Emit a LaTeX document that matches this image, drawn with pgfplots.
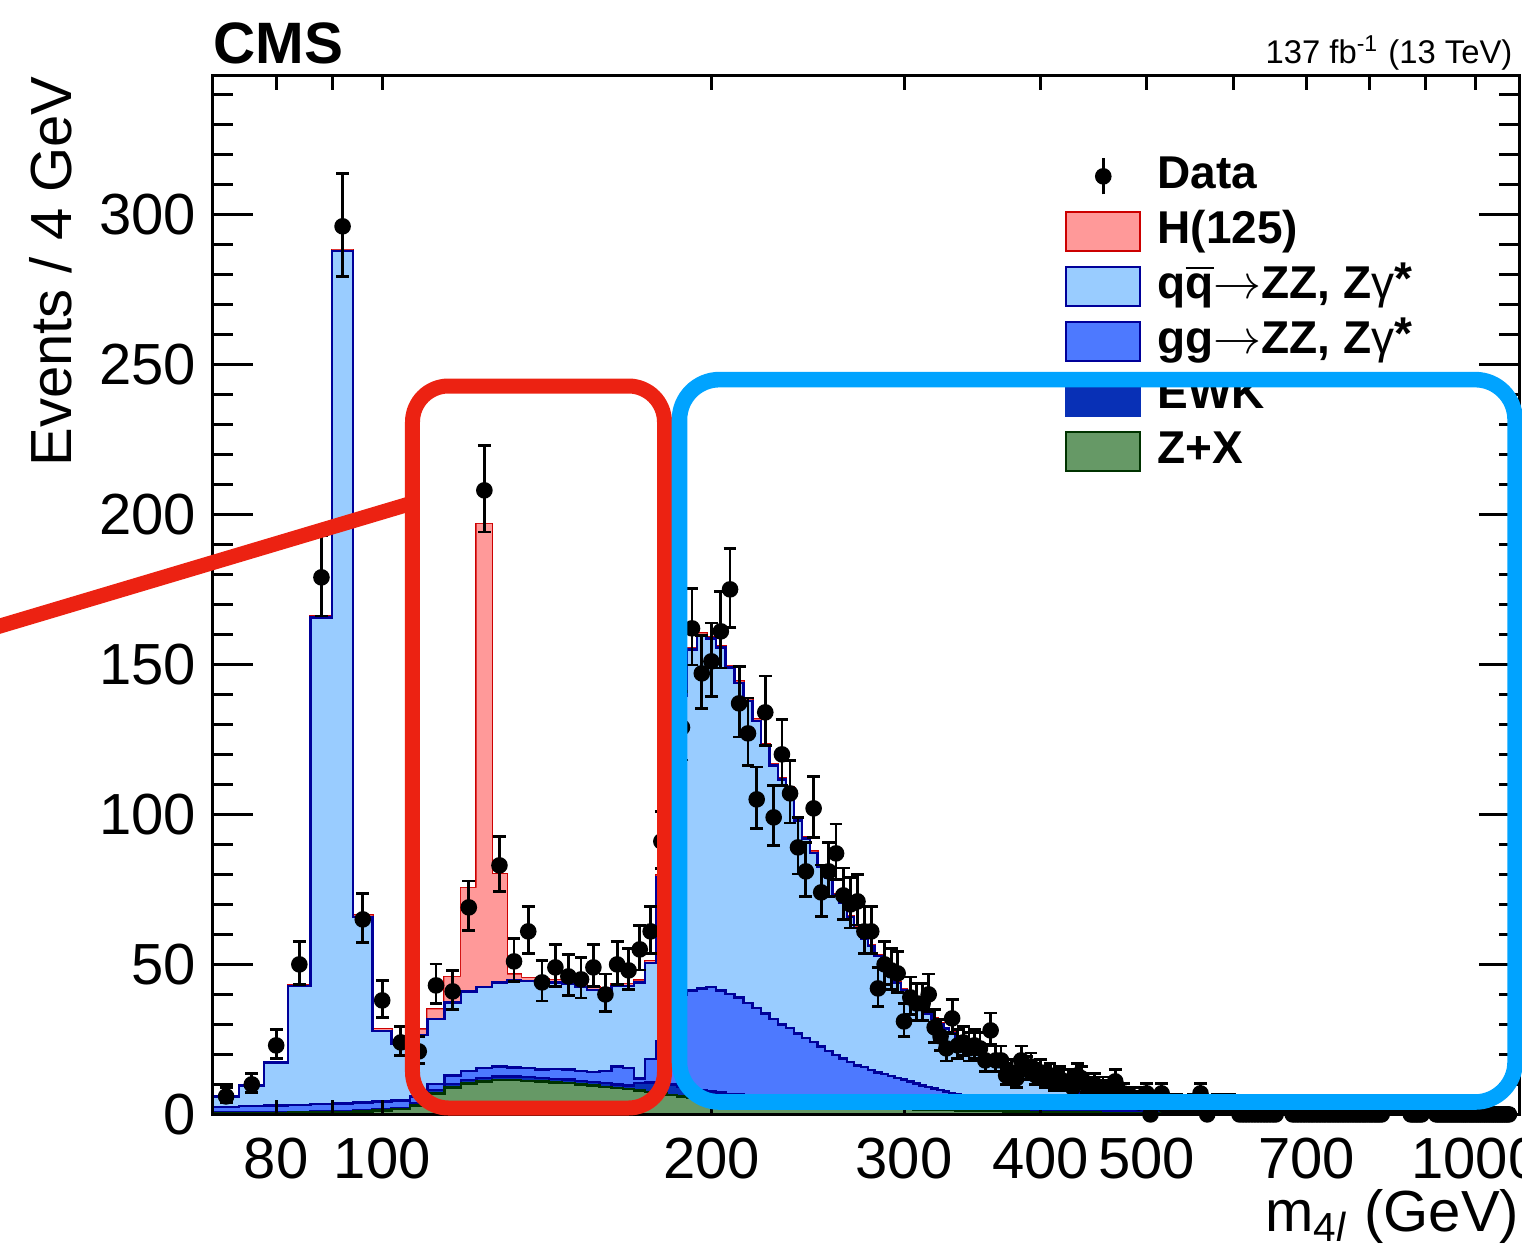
\documentclass[border=0pt]{standalone}
\usepackage{fontspec}
\setmainfont{Liberation Sans}
\usepackage{pgfplots}
\pgfplotsset{compat=1.18}
\usepackage{pgfplotstable}

\definecolor{hfill}{RGB}{255,153,153}
\definecolor{hline}{RGB}{204,0,0}
\definecolor{qqfill}{RGB}{153,204,255}
\definecolor{ggfill}{RGB}{77,121,255}
\definecolor{ewkfill}{RGB}{8,48,182}
\definecolor{zxfill}{RGB}{102,153,102}
\definecolor{zxline}{RGB}{0,51,0}
\definecolor{navy}{RGB}{0,0,153}
\definecolor{redframe}{RGB}{236,34,18}
\definecolor{blueframe}{RGB}{0,163,255}

% stacked simulation, bins of 4 GeV (left edges)
\pgfplotstableread{
x zx ewk gg qq h z
70 0.3 0.3 1.9 3.5 0.2 0
74 0.4 0.3 2.1 6.8 0.2 0
78 0.5 0.3 2.2 14.3 0.2 0
82 0.6 0.3 2.3 39.6 0.3 0
86 0.7 0.3 2.5 162.1 0.3 0
90 0.8 0.3 2.6 284.1 0.4 0
94 1.0 0.3 2.7 61.8 0.5 0
98 1.3 0.3 2.7 23.5 0.6 0
102 1.8 0.4 2.5 18.8 0.8 0
106 3.0 0.8 2.2 20.5 1.8 0
110 7.0 1.2 2.0 21.6 3.2 0
114 9.0 1.2 2.8 24.3 8.5 0
118 10.3 1.2 3.0 26.5 34.5 0
122 11.0 1.2 3.2 27.1 154.3 0
126 11.5 1.2 3.3 28.0 36.1 0
130 11.5 1.2 3.0 29.1 1.8 0
134 11.2 1.2 3.0 29.1 1.0 0
138 11.0 1.2 2.8 29.0 0.9 0
142 10.7 1.2 3.3 28.8 0.8 0
146 10.4 1.2 3.4 28.5 0.8 0
150 10.0 1.2 3.3 28.0 0.8 0
154 9.6 1.2 3.4 27.3 0.8 0
158 9.2 1.2 4.1 27.0 0.7 0
162 8.8 1.2 6.0 26.8 0.7 0
166 8.4 1.2 5.9 27.3 0.7 0
170 8.0 2.5 1.5 32.0 0.6 0
174 7.5 3.2 7.7 32.1 0.6 0
178 7.0 3.5 13.9 54.7 0.5 0
182 6.5 3.5 23.0 81.6 0.5 0
186 6.0 3.2 30.8 99.6 0.5 0
190 5.6 3.0 32.7 113.7 0.5 0
194 5.3 2.8 33.8 117.9 0.5 0
198 5.0 2.6 34.9 116.1 0.5 0
202 4.8 2.45 34.05 114.3 0.5 0
206 4.6 2.3 33.2 108.9 0.5 0
210 4.4 2.2 32.4 104.8 0.5 0
214 4.2 2.1 30.9 100.6 0.5 0
218 4.0 2.0 29.4 95.8 0.5 0
222 3.8 1.9 27.9 89.3 0.5 0
226 3.6 1.85 26.35 84.5 0.5 0
230 3.5 1.8 24.7 81.6 0.5 0
234 3.3 1.75 23.75 79.8 0.5 0
238 3.2 1.7 22.1 70.9 0.4 0
242 3.0 1.65 20.85 66.4 0.4 0
246 2.9 1.6 19.6 63.1 0.4 0
250 2.8 1.55 18.35 59.8 0.4 0
254 2.7 1.5 16.9 57.7 0.4 0
258 2.6 1.45 15.85 53.0 0.4 0
262 2.5 1.4 14.8 51.8 0.4 0
266 2.4 1.35 13.75 48.3 0.4 0
270 2.3 1.3 12.7 45.9 0.4 0
274 2.2 1.27 12.33 42.8 0.3 0
278 2.1 1.24 11.46 41.4 0.3 0
282 2.0 1.2 10.8 38.7 0.3 0
286 1.95 1.17 10.28 36.9 0.3 0
290 1.9 1.14 9.76 33.9 0.3 0
294 1.85 1.1 9.25 31.5 0.3 0
298 1.8 1.0 8.8 29.9 0.3 0
302 1.75 1.0 8.25 28.3 0.3 0
306 1.7 1.0 7.6 27.0 0.3 0
310 1.65 1.0 7.05 25.7 0.3 0
314 1.6 1.0 6.5 24.4 0.3 0
318 1.55 1.0 6.05 23.2 0.3 0
322 1.5 0.9 5.7 22.0 0.3 0
326 1.45 0.9 5.25 21.0 0.3 0
330 1.4 0.9 4.9 19.9 0.3 0
334 1.36 0.9 4.54 18.9 0.3 0
338 1.32 0.9 4.18 17.9 0.3 0
342 1.28 0.9 3.82 17.1 0.3 0
346 1.24 0.8 3.66 16.2 0.3 0
350 1.2 0.8 3.4 15.3 0.3 0
354 1.16 0.8 3.14 14.6 0.2 0
358 1.12 0.8 2.88 13.8 0.2 0
362 1.09 0.8 2.61 13.2 0.2 0
366 1.06 0.8 2.44 12.4 0.2 0
370 1.03 0.7 2.37 11.8 0.2 0
374 1.0 0.7 2.2 11.1 0.2 0
378 0.97 0.7 2.03 10.6 0.2 0
382 0.94 0.7 1.86 10.0 0.2 0
386 0.91 0.7 1.69 9.5 0.2 0
390 0.88 0.7 1.57 9.05 0.2 0
394 0.86 0.6 1.54 8.5 0.2 0
398 0.84 0.6 1.41 8.05 0.2 0
402 0.82 0.6 1.28 7.7 0.2 0
406 0.8 0.6 1.15 7.25 0.15 0
410 0.78 0.6 1.07 6.85 0.15 0
414 0.76 0.6 0.99 6.45 0.15 0
418 0.74 0.5 1.01 6.15 0.15 0
422 0.72 0.5 0.93 5.75 0.15 0
426 0.7 0.5 0.85 5.45 0.15 0
430 0.68 0.5 0.77 5.15 0.15 0
434 0.66 0.5 0.69 4.95 0.15 0
438 0.64 0.5 0.61 4.65 0.15 0
442 0.62 0.45 0.63 4.4 0.15 0
446 0.6 0.45 0.55 4.2 0.15 0
450 0.58 0.45 0.52 3.95 0.15 0
454 0.56 0.45 0.49 3.7 0.15 0
458 0.54 0.45 0.46 3.45 0.15 0
462 0.5 0.4 0.45 3.25 0.1 0
480 0.45 0.35 0.4 2.6 0.1 0
500 0.4 0.3 0.3 2.0 0.1 0
530 0.33 0.25 0.22 1.4 0.08 0
560 0.27 0.2 0.18 0.95 0.07 0
600 0.2 0.15 0.15 0.6 0.06 0
650 0.15 0.12 0.11 0.37 0.05 0
700 0.1 0.1 0.08 0.22 0.04 0
800 0.06 0.06 0.03 0.1 0.03 0
900 0.03 0.04 0.03 0.03 0.02 0
1000 0.02 0.03 0.02 0.01 0.02 0
1095 0.02 0.03 0.02 0.01 0.02 0
}\mctab

% data: bin centre, events, lower and upper error
\pgfplotstableread[row sep=\\]{
x n ed eu\\
72 6 2.0 3.0\\ 76 10 2.7 3.7\\ 80 23 4.3 5.3\\ 84 50 6.6 7.6\\
88 179 12.9 13.9\\ 92 296 16.7 17.7\\ 96 65 7.6 8.6\\ 100 38 5.7 6.7\\
104 24 4.4 5.4\\ 108 21 4.1 5.1\\ 112 43 6.1 7.1\\ 116 41 5.9 6.9\\
120 69 7.8 8.8\\ 124 208 13.9 14.9\\ 128 83 8.6 9.6\\ 132 51 6.7 7.7\\
136 61 7.3 8.3\\ 140 44 6.2 7.2\\ 144 49 6.5 7.5\\ 148 46 6.3 7.3\\
152 45 6.2 7.2\\ 156 49 6.5 7.5\\ 160 40 5.8 6.8\\ 164 50 6.6 7.6\\
168 48 6.4 7.4\\ 172 55 6.9 7.9\\ 176 61 7.3 8.3\\ 180 91 9.0 10.0\\
184 100 9.5 10.5\\ 188 129 10.9 11.9\\ 192 162 12.2 13.2\\ 196 147 11.6 12.6\\
200 151 11.8 12.8\\ 204 161 12.2 13.2\\ 208 175 12.7 13.7\\ 212 137 11.2 12.2\\
216 127 10.8 11.8\\ 220 105 9.8 10.8\\ 224 134 11.1 12.1\\ 228 99 9.5 10.5\\
232 120 10.5 11.5\\ 236 107 9.9 10.9\\ 240 89 8.9 9.9\\ 244 81 8.5 9.5\\
248 102 9.6 10.6\\ 252 74 8.1 9.1\\ 256 81 8.5 9.5\\ 260 87 8.8 9.8\\
264 73 8.1 9.1\\ 268 70 7.9 8.9\\ 272 71 7.9 8.9\\ 276 61 7.3 8.3\\
280 61 7.3 8.3\\ 284 42 6.0 7.0\\ 288 50 6.6 7.6\\ 292 48 6.4 7.4\\
296 47 6.4 7.4\\ 300 31 5.1 6.1\\ 304 39 5.8 6.8\\ 308 37 5.6 6.6\\
312 37 5.6 6.6\\ 316 40 5.8 6.8\\ 320 29 4.9 5.9\\ 324 26 4.6 5.6\\
328 22 4.2 5.2\\ 332 32 5.2 6.2\\ 336 23 4.3 5.3\\ 340 24 4.4 5.4\\
344 22 4.2 5.2\\ 348 23 4.3 5.3\\ 352 22 4.2 5.2\\ 356 18 3.8 4.8\\
360 28 4.8 5.8\\ 364 18 3.8 4.8\\ 368 18 3.8 4.8\\ 372 13 3.1 4.1\\
376 14 3.3 4.3\\ 380 12 3.0 4.0\\ 384 18 3.8 4.8\\ 388 15 3.4 4.4\\
392 16 3.5 4.5\\ 396 13 3.1 4.1\\ 400 14 3.3 4.3\\ 404 12 3.0 4.0\\
408 13 3.1 4.1\\ 412 11 2.9 3.9\\ 416 12 3.0 4.0\\ 420 11 2.9 3.9\\
424 11 2.9 3.9\\ 428 9 2.5 3.5\\ 432 13 3.1 4.1\\ 436 12 3.0 4.0\\
440 10 2.7 3.7\\ 444 9 2.5 3.5\\ 448 10 2.7 3.7\\ 452 8 2.4 3.4\\
456 9 2.5 3.5\\ 460 7 2.2 3.2\\ 464 8 2.4 3.4\\ 468 11 2.9 3.9\\
472 6 2.0 3.0\\ 476 7 2.2 3.2\\ 480 5 1.8 2.8\\ 484 6 2.0 3.0\\
488 5 1.8 2.8\\ 492 4 1.6 2.6\\ 496 6 2.0 3.0\\ 500 7 2.2 3.2\\
504 0 0 1.8\\ 508 5 1.8 2.8\\ 512 4 1.6 2.6\\ 516 7 2.2 3.2\\
520 3 1.3 2.3\\ 524 4 1.6 2.6\\ 528 3 1.3 2.3\\ 532 4 1.6 2.6\\
536 3 1.3 2.3\\ 540 3 1.3 2.3\\ 544 3 1.3 2.3\\ 548 3 1.3 2.3\\
552 4 1.6 2.6\\ 556 3 1.3 2.3\\ 560 7 2.2 3.2\\ 564 3 1.3 2.3\\
568 0 0 1.8\\ 572 3 1.3 2.3\\ 576 3 1.3 2.3\\ 580 4 1.6 2.6\\
584 3 1.3 2.3\\ 588 3 1.3 2.3\\ 592 3 1.3 2.3\\ 596 4 1.6 2.6\\
600 3 1.3 2.3\\ 604 3 1.3 2.3\\
608 0 0 1.8\\ 612 0 0 1.8\\ 616 0 0 1.8\\ 620 0 0 1.8\\ 624 0 0 1.8\\
628 0 0 1.8\\ 632 0 0 1.8\\ 636 0 0 1.8\\ 640 0 0 1.8\\ 644 0 0 1.8\\
648 0 0 1.8\\ 652 0 0 1.8\\ 656 0 0 1.8\\
660 3 1.3 2.3\\ 664 3 1.3 2.3\\ 668 3 1.3 2.3\\ 672 3 1.3 2.3\\ 676 3 1.3 2.3\\
680 0 0 1.8\\ 684 0 0 1.8\\ 688 0 0 1.8\\ 692 0 0 1.8\\ 696 0 0 1.8\\
700 0 0 1.8\\ 704 0 0 1.8\\ 708 0 0 1.8\\ 712 0 0 1.8\\ 716 0 0 1.8\\
720 0 0 1.8\\ 724 0 0 1.8\\ 728 0 0 1.8\\ 732 0 0 1.8\\ 736 0 0 1.8\\
740 0 0 1.8\\ 744 0 0 1.8\\ 748 0 0 1.8\\ 752 0 0 1.8\\ 756 0 0 1.8\\
760 0 0 1.8\\ 764 0 0 1.8\\ 768 0 0 1.8\\ 772 0 0 1.8\\ 776 0 0 1.8\\
780 0 0 1.8\\ 784 0 0 1.8\\ 788 0 0 1.8\\ 792 0 0 1.8\\ 796 0 0 1.8\\
800 0 0 1.8\\ 804 0 0 1.8\\ 808 0 0 1.8\\ 812 0 0 1.8\\ 816 0 0 1.8\\
820 0 0 1.8\\
824 3 1.3 2.3\\ 828 3 1.3 2.3\\ 832 3 1.3 2.3\\ 836 3 1.3 2.3\\
840 3 1.3 2.3\\ 844 3 1.3 2.3\\ 848 3 1.3 2.3\\ 852 3 1.3 2.3\\
856 3 1.3 2.3\\ 860 3 1.3 2.3\\ 864 3 1.3 2.3\\ 868 3 1.3 2.3\\
872 0 0 1.8\\ 876 0 0 1.8\\ 880 0 0 1.8\\ 884 0 0 1.8\\ 888 0 0 1.8\\ 892 0 0 1.8\\
896 3 1.3 2.3\\ 900 3 1.3 2.3\\ 904 3 1.3 2.3\\ 908 3 1.3 2.3\\ 912 3 1.3 2.3\\ 916 3 1.3 2.3\\
920 0 0 1.8\\ 924 0 0 1.8\\ 928 0 0 1.8\\ 932 0 0 1.8\\ 936 0 0 1.8\\
940 0 0 1.8\\ 944 0 0 1.8\\ 948 0 0 1.8\\ 952 0 0 1.8\\ 956 0 0 1.8\\
960 0 0 1.8\\ 964 0 0 1.8\\ 968 0 0 1.8\\ 972 0 0 1.8\\ 976 0 0 1.8\\
980 0 0 1.8\\ 984 0 0 1.8\\ 988 0 0 1.8\\ 992 0 0 1.8\\ 996 0 0 1.8\\
1000 0 0 1.8\\ 1004 0 0 1.8\\ 1008 0 0 1.8\\ 1012 0 0 1.8\\ 1016 0 0 1.8\\
1020 0 0 1.8\\ 1024 0 0 1.8\\ 1028 0 0 1.8\\ 1032 0 0 1.8\\ 1036 0 0 1.8\\
1040 0 0 1.8\\ 1044 0 0 1.8\\ 1048 0 0 1.8\\ 1052 0 0 1.8\\ 1056 0 0 1.8\\
1060 0 0 1.8\\ 1064 0 0 1.8\\ 1068 0 0 1.8\\ 1072 0 0 1.8\\
}\datatab

\begin{document}
\begin{tikzpicture}
\useasboundingbox (-53.175pt,-32.9pt) rectangle (327.325pt,278.6pt);

% stacked simulation
\begin{axis}[scale only axis, width=326.575pt, height=259.675pt,
  xmode=log, xmin=70, xmax=1095, ymin=0, ymax=346.2,
  hide axis, stack plots=y]
\addplot[const plot, fill=zxfill, draw=zxline, line width=0.6pt] table[x=x,y=zx]{\mctab} \closedcycle;
\addplot[const plot, fill=ewkfill, draw=navy, line width=0.6pt] table[x=x,y=ewk]{\mctab} \closedcycle;
\addplot[const plot, fill=ggfill, draw=navy, line width=0.6pt] table[x=x,y=gg]{\mctab} \closedcycle;
\addplot[const plot, fill=qqfill, draw=navy, line width=0.6pt] table[x=x,y=qq]{\mctab} \closedcycle;
\addplot[const plot, fill=hfill, draw=none] table[x=x,y=h]{\mctab} \closedcycle;
\addplot[const plot, draw=hline, line width=0.6pt] table[x=x,y=z]{\mctab};
\end{axis}

% axes, data, legend
\begin{axis}[scale only axis, width=326.575pt, height=259.675pt,
  xmode=log, xmin=70, xmax=1095, ymin=0, ymax=346.2,
  clip mode=individual,
  axis line style={line width=0.75pt, black},
  every tick/.append style={line width=0.75pt, black},
  major tick length=10pt, minor tick length=5pt,
  xtick={80,90,200,300,400,500,600,700,800,900},
  xticklabels={80,,200,300,400,500,,700,,},
  xtick style={/pgfplots/major tick length=3.5pt},
  extra x ticks={100,1000},
  extra x tick labels={100,1000},
  extra x tick style={/pgfplots/major tick length=7.75pt},
  ytick={0,50,100,150,200,250,300},
  minor ytick={10,20,30,40,60,70,80,90,110,120,130,140,160,170,180,190,210,220,230,240,260,270,280,290,310,320,330,340},
  tick label style={font=\fontsize{14.5}{17}\selectfont},
  /pgf/number format/assume math mode=true,
  xticklabel style={inner sep=0pt, anchor=north, yshift=-5.8pt},
  yticklabel style={inner sep=0pt, anchor=east, xshift=-4pt},
  legend cell align=left,
  legend style={at={(0.6525,0.9243)}, anchor=north west,
    draw=none, fill=none, inner sep=0pt, outer sep=0pt,
    row sep=2.75pt, column sep=4pt,
    font=\bfseries\fontsize{11.5}{13}\selectfont,
    nodes={inner sep=0pt, text height=8.5pt, text depth=2.5pt}},
]
\addplot[only marks, mark=*, mark size=1.875pt, black,
  legend image code/.code={%
    \draw[line width=0.7pt,black] (9.25pt,-4.5pt)--(9.25pt,4.5pt);
    \fill[black] (9.25pt,0pt) circle[radius=1.875pt];},
  error bars/.cd, y dir=both, y explicit,
  error bar style={line width=0.7pt, black},
  error mark options={rotate=90, mark size=1.6pt, line width=0.7pt, black}]
  table[x=x, y=n, y error plus=eu, y error minus=ed]{\datatab};
\addlegendentry{Data}
\addlegendimage{legend image code/.code={\draw[fill=hfill,draw=hline,line width=0.6pt] (0pt,-4.875pt) rectangle (18.5pt,4.875pt);}}
\addlegendentry{H(125)}
\addlegendimage{legend image code/.code={\draw[fill=qqfill,draw=navy,line width=0.6pt] (0pt,-4.875pt) rectangle (18.5pt,4.875pt);}}
\addlegendentry{q$\overline{\mbox{q}}$$\rightarrow$ZZ, Z{\mdseries γ}\raisebox{0.15ex}{*}}
\addlegendimage{legend image code/.code={\draw[fill=ggfill,draw=navy,line width=0.6pt] (0pt,-4.875pt) rectangle (18.5pt,4.875pt);}}
\addlegendentry{gg$\rightarrow$ZZ, Z{\mdseries γ}\raisebox{0.15ex}{*}}
\addlegendimage{legend image code/.code={\draw[fill=ewkfill,draw=ewkfill,line width=0.6pt] (0pt,-4.875pt) rectangle (18.5pt,4.875pt);}}
\addlegendentry{EWK}
\addlegendimage{legend image code/.code={\draw[fill=zxfill,draw=zxline,line width=0.6pt] (0pt,-4.875pt) rectangle (18.5pt,4.875pt);}}
\addlegendentry{Z+X}
\end{axis}

% titles and labels
\node[anchor=base west, inner sep=0pt, font=\bfseries\fontsize{14.6}{16}\selectfont] at (0pt,262.8pt) {CMS};
\node[anchor=base east, inner sep=0pt, font=\fontsize{8.2}{9.5}\selectfont] at (325.1pt,262.8pt) {137 fb\textsuperscript{-1} (13 TeV)};
\node[anchor=base east, inner sep=0pt, font=\fontsize{14.5}{17}\selectfont] at (326.8pt,-29.3pt) {m\textsubscript{4\textit{l}} (GeV)};
\node[rotate=90, anchor=base east, inner sep=0pt, font=\fontsize{14.5}{17}\selectfont] at (-35.2pt,259.675pt) {Events / 4 GeV};

% annotation overlays
\draw[redframe, line width=3.75pt] (-60pt,120.06pt) -- (49.95pt,152.85pt);
\draw[redframe, line width=3.75pt, rounded corners=9pt] (49.95pt,1.6pt) rectangle (112.95pt,182.1pt);
\draw[blueframe, line width=3.9pt, rounded corners=10pt] (116.7pt,3.1pt) rectangle (325.6pt,183.7pt);
\end{tikzpicture}
\end{document}
